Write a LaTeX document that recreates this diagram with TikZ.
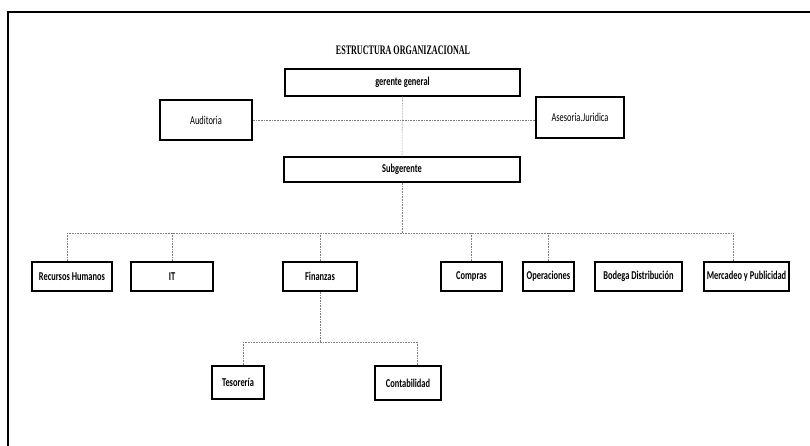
\documentclass[tikz,border=0pt]{standalone}
\usepackage{fontspec}
\setmainfont{Carlito}
\newfontfamily\titlefont{Liberation Serif}
\usepackage{graphicx}
\newcommand{\cnd}[1]{\scalebox{0.7}[1]{#1}}
\tikzset{
  box/.style={draw=black, line width=1.4pt, fill=white, inner sep=0pt, align=center,
    font=\bfseries\fontsize{12}{14}\selectfont},
  lbox/.style={box, font=\fontsize{12}{14}\selectfont},
  conn/.style={draw=black!50, line width=0.6pt, densely dotted},
}
\begin{document}
\begin{tikzpicture}[x=1pt,y=-1pt]
\useasboundingbox (0,0) rectangle (810,445);
\fill[white] (0,0) rectangle (810,445);
\begin{scope}
\clip (0,0) rectangle (810,445);
\draw[line width=1.6pt] (8,470) -- (8,12) -- (830,12);
\end{scope}
\node[font=\titlefont\bfseries\fontsize{13}{15}\selectfont] (title) at (403,50) {\scalebox{0.62}[1]{ESTRUCTURA ORGANIZACIONAL}};

\node[box, minimum width=235pt, minimum height=27pt] (gg) at (402.5,82.5) {\cnd{gerente general}};
\node[lbox, minimum width=92pt, minimum height=40pt] (aud) at (206,120) {\cnd{Auditoria}};
\node[lbox, minimum width=88pt, minimum height=41pt] (ase) at (580,117.5) {\cnd{Asesoria.Juridica}};
\node[box, minimum width=236pt, minimum height=25pt] (sub) at (402,169.5) {\cnd{Subgerente}};

\begin{scope}[every node/.append style={minimum height=29pt}]
\node[box, minimum width=80pt] (rh) at (72,276.5) {\cnd{Recursos Humanos}};
\node[box, minimum width=82pt] (it) at (172,276.5) {\cnd{IT}};
\node[box, minimum width=74pt] (fin) at (320,276.5) {\cnd{Finanzas}};
\node[box, minimum width=61pt] (com) at (471.5,276.5) {\cnd{Compras}};
\node[box, minimum width=51pt] (ope) at (548.5,276.5) {\cnd{Operaciones}};
\node[box, minimum width=87pt] (bod) at (638.5,276.5) {\cnd{Bodega Distribución}};
\node[box, minimum width=85pt] (mer) at (746.5,276.5) {\cnd{Mercadeo y Publicidad}};
\end{scope}

\node[box, minimum width=52pt, minimum height=33pt] (tes) at (238,382.5) {\cnd{Tesorería}};
\node[box, minimum width=66pt, minimum height=34pt] (con) at (408,383) {\cnd{Contabilidad}};

% connectors
\draw[conn] (gg.south) -- (sub.north);
\draw[conn] (aud.east) -- (aud.east -| ase.west);

\coordinate (bus) at (402,233);
\coordinate (rhtop) at ([xshift=-5pt]rh.north);
\coordinate (mertop) at ([xshift=-13.5pt]mer.north);
\draw[conn] (sub.south) -- (bus);
\draw[conn] (bus -| rhtop) -- (bus -| mertop);
\draw[conn] (bus -| rhtop) -- (rhtop);
\draw[conn] (bus -| it.north) -- (it.north);
\draw[conn] (bus -| fin.north) -- (fin.north);
\draw[conn] (bus -| com.north) -- (com.north);
\draw[conn] (bus -| ope.north) -- (ope.north);
\draw[conn] (bus -| mertop) -- (mertop);

\coordinate (fbus) at (320,342);
\coordinate (testop) at ([xshift=5pt]tes.north);
\coordinate (contop) at ([xshift=9pt]con.north);
\draw[conn] (fin.south) -- (fbus);
\draw[conn] (fbus -| testop) -- (fbus -| contop);
\draw[conn] (fbus -| testop) -- (testop);
\draw[conn] (fbus -| contop) -- (contop);
\end{tikzpicture}
\end{document}
